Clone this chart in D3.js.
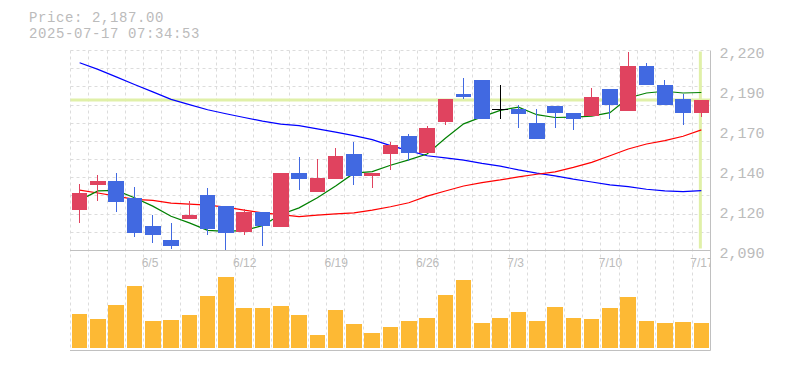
<!DOCTYPE html>
<html><head><meta charset="utf-8">
<script src="https://cdn.jsdelivr.net/npm/d3@7"></script>
<style>html,body{margin:0;padding:0;background:#fff;overflow:hidden}</style>
</head><body><svg id="c" width="785" height="370"></svg>
<script>
const dates=["5/30","6/2","6/3","6/4","6/5","6/6","6/9","6/10","6/11","6/12","6/13","6/16","6/17","6/18","6/19","6/20","6/23","6/24","6/25","6/26","6/27","6/30","7/1","7/2","7/3","7/4","7/7","7/8","7/9","7/10","7/11","7/14","7/15","7/16","7/17"];
const openP =[2116,2132,2135,2124,2106,2097,2110,2126,2119,2102,2115,2105,2140,2128,2136,2152,2138,2152,2164,2153,2173,2191,2200,2181,2181,2172,2183,2179,2177,2194,2180,2209,2197,2188,2179];
const highP =[2133,2139,2140,2131,2113,2108,2122,2130,2119,2117,2115,2140,2150,2149,2156,2160,2140,2160,2165,2170,2188,2201,2200,2197,2184,2181,2183,2179,2195,2194,2218,2211,2200,2191,2187];
const lowP  =[2108,2122,2115,2099,2095,2091,2110,2100,2090,2100,2093,2105,2129,2128,2136,2132,2130,2142,2148,2153,2171,2188,2175,2175,2169,2162,2169,2168,2177,2175,2180,2197,2184,2171,2176];
const closeP=[2127,2135,2121,2101,2100,2093,2113,2104,2101,2115,2106,2140,2136,2137,2151,2138,2140,2158,2153,2169,2188,2189,2175,2181,2178,2162,2179,2175,2189,2184,2209,2197,2184,2179,2187];
const ma5  =[2122.5,2128.4,2128.8,2124.0,2118.6,2112.1,2107.8,2103.0,2102.4,2103.0,2106.0,2113.2,2117.5,2124.0,2131.6,2139.9,2140.9,2145.0,2148.5,2152.2,2162.4,2171.7,2176.2,2180.4,2182.5,2177.6,2175.8,2176.0,2176.7,2178.9,2188.4,2191.6,2192.7,2191.6,2191.9];
const ma25 =[2129.0,2127.1,2125.1,2123.0,2122.3,2120.6,2119.9,2119.3,2118.0,2116.0,2114.3,2113.2,2111.9,2112.8,2113.6,2114.3,2116.0,2118.2,2120.8,2125.1,2128.4,2131.6,2133.8,2135.5,2137.5,2139.2,2140.7,2143.6,2146.8,2151.1,2155.5,2158.7,2160.9,2163.7,2167.8];
const ma75 =[2211.1,2206.8,2202.0,2197.1,2192.3,2187.5,2184.1,2180.8,2178.2,2175.8,2173.4,2171.5,2170.6,2168.5,2166.3,2164.1,2161.5,2157.6,2154.4,2151.1,2149.8,2148.3,2146.2,2144.4,2142.0,2139.9,2138.1,2136.0,2134.2,2132.3,2131.2,2129.5,2128.4,2128.0,2128.6];
const volume=[3400,2900,4300,6200,2700,2800,3300,5200,7100,4000,4000,4200,3300,1300,3800,2400,1500,2100,2700,3000,5300,6800,2500,3000,3600,2700,4100,3000,2900,4000,5100,2700,2500,2600,2500];
const xTickLabels=["6/5","6/12","6/19","6/26","7/3","7/10","7/17"];
const currentPrice=2187.00;
const timestamp="2025-07-17 07:34:53";
const priceMin=2090, priceMax=2219;

const svg=d3.select("#c");
const L=70.5,R=710.5,PT=50.5,PB=250.5,VBase=348,VBot=350.5;
const x=d3.scaleBand().domain(dates).range([L,R]).paddingInner(0.15).paddingOuter(0.075);
const step=x.step(), bw=x.bandwidth();
const cx=d=>x(d)+bw/2;
const y=d3.scaleLinear().domain([priceMin,priceMax]).range([PB,PT]);
const yv=d3.scaleLinear().domain([0,9800]).range([VBase,VBase-98]);
const snap=v=>Math.round(v-0.5)+0.5;
const gridC="#dcdcdc";

// horizontal grid (price)
const hg=d3.range(12).map(k=>priceMin+k*(priceMax-priceMin)/11);
svg.append("g").selectAll("line").data(hg).join("line")
  .attr("x1",L).attr("x2",R).attr("y1",d=>snap(y(d))).attr("y2",d=>snap(y(d)))
  .attr("stroke",gridC).attr("stroke-dasharray","3,3");
// vertical grid
const vg=d3.range(35).map(k=>L+k*step);
svg.append("g").selectAll("line").data(vg).join("line")
  .attr("x1",d=>snap(d)).attr("x2",d=>snap(d)).attr("y1",PT).attr("y2",VBot)
  .attr("stroke",gridC).attr("stroke-dasharray","3,3");

// current price lines
svg.append("line").attr("x1",L).attr("x2",R).attr("y1",y(currentPrice)).attr("y2",y(currentPrice))
  .attr("stroke","#e0f0a8").attr("stroke-width",3);
const lastX=cx(dates[dates.length-1])-1;
svg.append("line").attr("x1",lastX).attr("x2",lastX).attr("y1",PT+1).attr("y2",PB-2)
  .attr("stroke","#e0f0a8").attr("stroke-width",3);

// moving averages
const line=arr=>d3.line().x((v,i)=>cx(dates[i])).y(v=>y(v))(arr);
[[ma75,"#0000ff"],[ma25,"#ff0000"],[ma5,"#008000"]].forEach(([a,c])=>{
  svg.append("path").attr("d",line(a)).attr("fill","none").attr("stroke",c).attr("stroke-width",1.2);
});

// candles
const colorOf=i=>closeP[i]>openP[i]?"#e0435f":(closeP[i]<openP[i]?"#4169e1":"#000000");
const cg=svg.append("g").attr("shape-rendering","crispEdges");
dates.forEach((d,i)=>{
  const c=colorOf(i);
  const xc=Math.floor(cx(d))+0.5;
  cg.append("line").attr("x1",xc).attr("x2",xc).attr("y1",y(highP[i])).attr("y2",y(lowP[i])).attr("stroke",c).attr("stroke-width",1);
  const top=y(Math.max(openP[i],closeP[i])), bot=y(Math.min(openP[i],closeP[i]));
  if(openP[i]===closeP[i]){
    cg.append("line").attr("x1",x(d)).attr("x2",x(d)+bw).attr("y1",top).attr("y2",top).attr("stroke",c).attr("stroke-width",1);
  } else {
    cg.append("rect").attr("x",x(d)).attr("width",bw).attr("y",top).attr("height",Math.max(1,bot-top)).attr("fill",c);
  }
});

// volume
svg.append("g").attr("shape-rendering","crispEdges").selectAll("rect").data(volume).join("rect")
  .attr("x",(v,i)=>x(dates[i])).attr("width",bw).attr("y",v=>yv(v)).attr("height",v=>VBase-yv(v)).attr("fill","#fdb934");

// borders
const bc="#c0c0c0";
svg.append("line").attr("x1",L-0.5).attr("x2",R).attr("y1",PB).attr("y2",PB).attr("stroke",bc);
svg.append("line").attr("x1",L-0.5).attr("x2",R).attr("y1",VBot).attr("y2",VBot).attr("stroke",bc);
svg.append("line").attr("x1",R).attr("x2",R).attr("y1",PT).attr("y2",VBot).attr("stroke",bc);

// y axis labels
const yTicks=d3.range(6).map(k=>priceMax-k*(priceMax-priceMin)/5);
const fmt=v=>d3.format(",")(Math.round(v/10)*10);
const yAxis=d3.axisRight(y).tickValues(yTicks).tickFormat(fmt).tickSize(0).tickPadding(0);
const ya=svg.append("g").attr("transform",`translate(719.5,0)`).call(yAxis);
ya.select(".domain").remove();
ya.selectAll("text").attr("font-family","'Liberation Mono',monospace").attr("font-size",15)
  .attr("fill","#bbbbbb").attr("dy","0.45em").attr("text-anchor","start");

// x labels (clipped to plot)
svg.append("clipPath").attr("id","cp").append("rect").attr("x",0).attr("y",PB).attr("width",R).attr("height",100);
svg.append("g").attr("clip-path","url(#cp)").selectAll("text").data(xTickLabels).join("text")
  .attr("x",d=>x(d)-step*0.075-2).attr("y",267).text(d=>d)
  .attr("font-family","'Liberation Sans',Arial,sans-serif").attr("font-size",12).attr("fill","#bbbbbb");

// header
svg.append("text").attr("x",29).attr("y",22).text("Price: "+d3.format(",.2f")(currentPrice))
  .attr("font-family","'Liberation Mono',monospace").attr("font-size",14).attr("letter-spacing",0.6).attr("fill","#bbbbbb");
svg.append("text").attr("x",29).attr("y",38).text(timestamp)
  .attr("font-family","'Liberation Mono',monospace").attr("font-size",14).attr("letter-spacing",0.6).attr("fill","#bbbbbb");
</script></body></html>
